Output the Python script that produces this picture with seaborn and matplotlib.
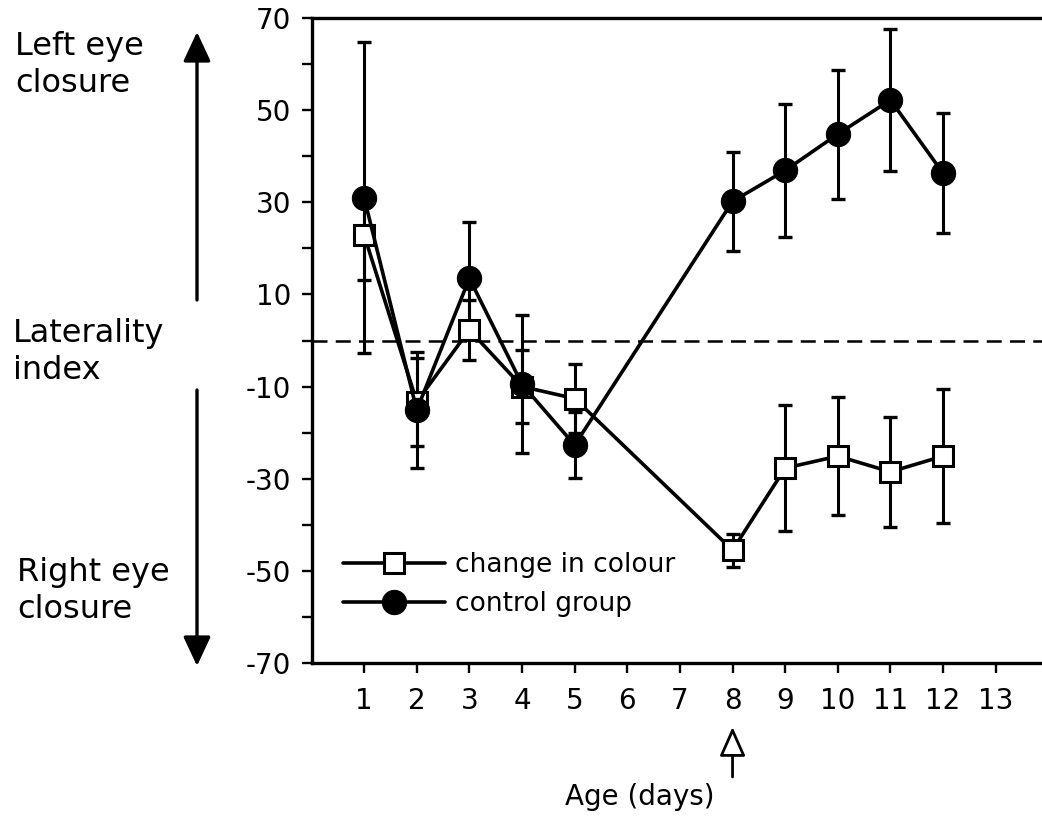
import numpy as np
import pandas as pd
import matplotlib
matplotlib.use("Agg")
import matplotlib.pyplot as plt
from matplotlib.patches import ArrowStyle
import seaborn as sns

# ---- data ----
days = [1, 2, 3, 4, 5, 8, 9, 10, 11, 12]
colour_change = [22.9, -13.3, 2.3, -10.0, -12.6, -45.5, -27.7, -25.1, -28.5, -25.1]
colour_err = [9.8, 9.5, 6.5, 8.0, 7.5, 3.6, 13.7, 12.8, 12.0, 14.5]
control = [31.0, -15.1, 13.5, -9.5, -22.7, 30.2, 36.9, 44.8, 52.2, 36.3]
control_err = [33.8, 12.6, 12.3, 15.0, 7.2, 10.8, 14.5, 14.0, 15.5, 13.0]
x_ticks = list(range(1, 14))
x_labels = [str(v) for v in x_ticks]
y_major = [70, 50, 30, 10, -10, -30, -50, -70]
y_labels = [str(v) for v in y_major]
y_minor = [60, 40, 20, 0, -20, -40, -60]
series_names = ["change in colour", "control group"]

df_c = pd.DataFrame({"day": days, "value": colour_change})
df_k = pd.DataFrame({"day": days, "value": control})

sns.set_style("ticks")
plt.rcParams["font.family"] = ["DejaVu Sans"]
plt.rcParams["text.color"] = "black"
plt.rcParams["axes.labelcolor"] = "black"
plt.rcParams["xtick.color"] = "black"
plt.rcParams["ytick.color"] = "black"

W, H = 1042, 816
fig = plt.figure(figsize=(W / 100, H / 100), dpi=100)
left_px, right_px, top_px, bot_px = 311.5, 1042, 18, 663
ax = fig.add_axes([left_px / W, 1 - bot_px / H, (right_px - left_px) / W, (bot_px - top_px) / H])

# error bars
ax.errorbar(days, colour_change, yerr=colour_err, fmt="none", ecolor="black",
            elinewidth=2.2, capsize=5, capthick=2.4, zorder=2)
ax.errorbar(days, control, yerr=control_err, fmt="none", ecolor="black",
            elinewidth=2.2, capsize=5, capthick=2.4, zorder=2)

sns.lineplot(data=df_c, x="day", y="value", ax=ax, color="black", lw=2.6,
             marker="s", markersize=15, markerfacecolor="white",
             markeredgecolor="black", markeredgewidth=2.2,
             label=series_names[0], zorder=3)
sns.lineplot(data=df_k, x="day", y="value", ax=ax, color="black", lw=2.6,
             marker="o", markersize=17.5, markerfacecolor="black",
             markeredgecolor="black", label=series_names[1], zorder=4)

ax.axhline(0, color="black", lw=1.8, ls=(0, (6, 3.3)), zorder=1)

ax.set_xlim(0, (right_px - left_px) / 52.63)
ax.set_ylim(-70, 70)
ax.set_xticks(x_ticks)
ax.set_xticklabels(x_labels)
ax.set_yticks(y_major)
ax.set_yticklabels(y_labels)
ax.set_yticks(y_minor, minor=True)
ax.set_xlabel("")
ax.set_ylabel("")

for s in ["left", "bottom", "top"]:
    ax.spines[s].set_linewidth(2.4)
    ax.spines[s].set_color("black")
ax.spines["right"].set_visible(False)

ax.tick_params(axis="y", which="both", direction="out", length=7.5, width=1.7,
               labelsize=20, pad=7, colors="black")
ax.tick_params(axis="x", which="both", direction="out", length=7.5, width=1.7,
               labelsize=20, pad=10, colors="black")
ax.tick_params(axis="x", which="minor", bottom=False)

# legend
leg = ax.legend(loc="upper left", bbox_to_anchor=(343 / W, 1 - 552 / H),
                bbox_transform=fig.transFigure, frameon=False, fontsize=19,
                handlelength=3.85, handletextpad=0.4, labelspacing=0.5,
                borderpad=0, borderaxespad=0, numpoints=1)
for t in leg.get_texts():
    t.set_color("black")

# side annotations
fig.text(15 / W, 1 - 31 / H, "Left eye\nclosure", fontsize=23, ha="left", va="top",
         linespacing=1.25)
fig.text(13 / W, 1 - 318 / H, "Laterality\nindex", fontsize=23, ha="left", va="top",
         linespacing=1.25)
fig.text(17 / W, 1 - 557 / H, "Right eye\nclosure", fontsize=23, ha="left", va="top",
         linespacing=1.25)
fig.text(640 / W, 1 - 797 / H, "Age (days)", fontsize=20, ha="center", va="center")

big = ArrowStyle("-|>", head_length=0.9, head_width=0.42)
ax.annotate("", xy=(197 / W, 1 - 32 / H), xytext=(197 / W, 1 - 300 / H),
            xycoords="figure fraction", textcoords="figure fraction",
            arrowprops=dict(arrowstyle=big, lw=2.4, color="black",
                            mutation_scale=20, shrinkA=0, shrinkB=0),
            annotation_clip=False)
ax.annotate("", xy=(197 / W, 1 - 666 / H), xytext=(197 / W, 1 - 390 / H),
            xycoords="figure fraction", textcoords="figure fraction",
            arrowprops=dict(arrowstyle=big, lw=2.4, color="black",
                            mutation_scale=20, shrinkA=0, shrinkB=0),
            annotation_clip=False)

small = ArrowStyle("-|>", head_length=0.9, head_width=0.4)
x8 = (left_px + 8 * 52.63) / W
ax.annotate("", xy=(x8, 1 - 727 / H), xytext=(x8, 1 - 777 / H),
            xycoords="figure fraction", textcoords="figure fraction",
            arrowprops=dict(arrowstyle=small, lw=2.0, ec="black", fc="white",
                            mutation_scale=20, shrinkA=0, shrinkB=0),
            annotation_clip=False)

fig.savefig("out.png", dpi=100)
